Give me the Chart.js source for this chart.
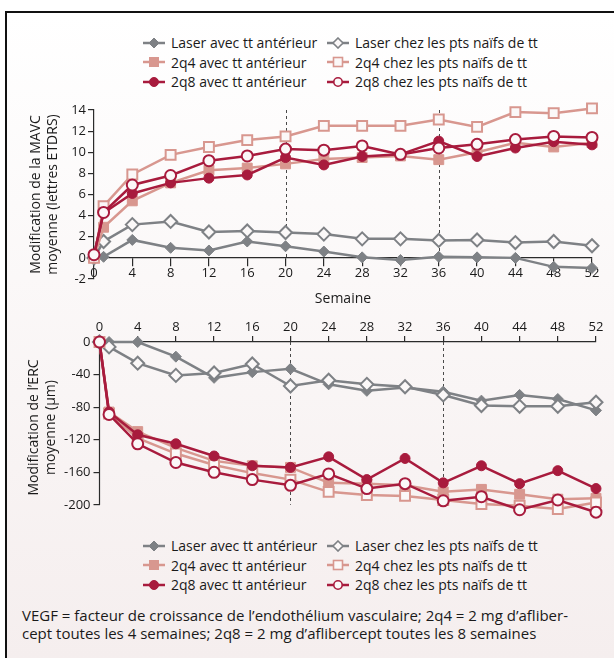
<!DOCTYPE html>
<html lang="fr">
<head>
<meta charset="utf-8">
<script src="https://cdn.jsdelivr.net/npm/chart.js@4.4.0/dist/chart.umd.min.js"></script>
<style>
  html, body { margin: 0; padding: 0; }
  body { width: 614px; height: 658px; position: relative; overflow: hidden; background: #fff;
         font-family: "Open Sans", sans-serif; color: #1a1a1a; }
  #frame { position: absolute; left: 5px; top: 11px; right: 0; bottom: 0;
           border-left: 2px solid #111; border-top: 2px solid #111;
           background: linear-gradient(#ffffff 0%, #f5eeee 100%); }
  canvas { position: absolute; left: 0; }
  #mavc { top: 95px; }
  #erc { top: 305px; }
  .legend { position: absolute; left: 143px; display: grid; grid-template-columns: 184px auto;
            grid-auto-rows: 19.5px; font-size: 14px; }
  .legend div { display: flex; align-items: center; white-space: nowrap; }
  .legend svg { margin-right: 6px; }
  #legendTop { top: 33px; }
  #legendBottom { top: 536px; }
  #note { position: absolute; left: 22px; top: 607px; font-size: 15px; line-height: 17.5px; white-space: nowrap; }
</style>
</head>
<body>
<div id="frame"></div>
<div class="legend" id="legendTop"></div>
<canvas id="mavc" width="614" height="232"></canvas>
<canvas id="erc" width="614" height="220"></canvas>
<div class="legend" id="legendBottom"></div>
<div id="note">VEGF = facteur de croissance de l’endothélium vasculaire; 2q4 = 2 mg d’afliber-<br>cept toutes les 4 semaines; 2q8 = 2 mg d’aflibercept toutes les 8 semaines</div>

<script>
// Données
const weeks = [0, 1, 4, 8, 12, 16, 20, 24, 28, 32, 36, 40, 44, 48, 52];
const refWeeks = [20, 36];
const seriesNames = [
    'Laser avec tt antérieur', 'Laser chez les pts naïfs de tt',
    '2q4 avec tt antérieur', '2q4 chez les pts naïfs de tt',
    '2q8 avec tt antérieur', '2q8 chez les pts naïfs de tt'
];

// MAVC (lettres ETDRS)
const mavcLaserPrior = [0, 0.1, 1.7, 0.95, 0.7, 1.55, 1.1, 0.6, 0.05, -0.2, 0.1, 0.05, 0, -0.85, -0.95];
const mavcLaserNaive = [0, 1.55, 3.15, 3.45, 2.45, 2.55, 2.4, 2.25, 1.8, 1.8, 1.65, 1.7, 1.45, 1.55, 1.15];
const mavcQ4Prior = [0, 2.9, 5.4, 7.1, 8.3, 8.5, 8.9, 9.35, 9.5, 9.65, 9.3, 10.0, 10.9, 10.5, 10.9];
const mavcQ4Naive = [0, 4.9, 7.9, 9.75, 10.5, 11.15, 11.5, 12.5, 12.5, 12.5, 13.1, 12.4, 13.8, 13.7, 14.15];
const mavcQ8Prior = [0.3, 4.25, 6.1, 7.1, 7.55, 7.85, 9.5, 8.8, 9.6, 9.8, 11.05, 9.6, 10.4, 11.0, 10.7];
const mavcQ8Naive = [0.3, 4.3, 6.9, 7.8, 9.2, 9.65, 10.3, 10.2, 10.6, 9.8, 10.4, 10.75, 11.2, 11.5, 11.4];
const mavcTicks = { min: -2, max: 14, step: 2 };

// ERC (µm)
const ercLaserPrior = [0, 0, 0, -18, -44, -37, -33, -52, -60, -56, -61, -72, -65, -70, -84];
const ercLaserNaive = [0, -6, -26, -41, -38, -27, -54, -47, -52, -55, -65, -78, -79, -79, -74];
const ercQ4Prior = [0, -86, -110, -130, -146, -152, -154, -173, -174, -176, -184, -181, -187, -193, -192];
const ercQ4Naive = [0, -88, -118, -137, -151, -161, -169, -184, -188, -189, -194, -199, -201, -205, -197];
const ercQ8Prior = [0, -86, -114, -125, -140, -152, -154, -141, -169, -143, -173, -152, -174, -158, -180];
const ercQ8Naive = [0, -89, -125, -148, -160, -169, -176, -162, -180, -174, -195, -190, -206, -194, -209];
const ercTicks = [0, -40, -80, -120, -160, -200];

// Styles
const GRAY = '#7e8185', PINK = '#d8978f', RED = '#a81b3d', PAPER = '#fbf8f8', AXIS = '#2b2b2b';
const styles = [
    { color: GRAY, shape: 'rectRot', radius: 5.5, open: false },
    { color: GRAY, shape: 'rectRot', radius: 6.5, open: true },
    { color: PINK, shape: 'rect', radius: 7, open: false },
    { color: PINK, shape: 'rect', radius: 7, open: true },
    { color: RED, shape: 'circle', radius: 5, open: false },
    { color: RED, shape: 'circle', radius: 5.5, open: true }
];

Chart.defaults.font.family = '"Open Sans", sans-serif';
Chart.defaults.font.size = 13;
Chart.defaults.color = '#1a1a1a';

// Lignes pointillées + axe y partiel
const refLinesPlugin = {
    id: 'refLines',
    beforeDatasetsDraw(chart, args, opts) {
        const { ctx, scales: { x, y } } = chart;
        ctx.save();
        ctx.strokeStyle = '#4a4a4a';
        ctx.lineWidth = 1;
        ctx.setLineDash([3, 3]);
        opts.weeks.forEach(w => {
            const px = Math.round(x.getPixelForValue(w)) + 0.5;
            ctx.beginPath();
            ctx.moveTo(px, y.getPixelForValue(opts.from));
            ctx.lineTo(px, y.getPixelForValue(opts.to));
            ctx.stroke();
        });
        if (opts.axisLine) {
            ctx.setLineDash([]);
            ctx.strokeStyle = AXIS;
            ctx.lineWidth = 1.2;
            ctx.beginPath();
            ctx.moveTo(x.left, y.getPixelForValue(opts.axisLine[0]));
            ctx.lineTo(x.left, y.getPixelForValue(opts.axisLine[1]));
            ctx.stroke();
        }
        ctx.restore();
    }
};

function buildDatasets(seriesValues) {
    // l'ordre est inversé pour que les marqueurs pleins passent devant
    return seriesValues.map((values, i) => {
        const st = styles[i];
        return {
            label: seriesNames[i],
            data: weeks.map((w, k) => ({ x: w, y: values[k] })),
            borderColor: st.color,
            borderWidth: 2.5,
            pointStyle: st.shape,
            pointRadius: st.radius,
            pointBorderColor: st.color,
            pointBackgroundColor: st.open ? PAPER : st.color,
            pointBorderWidth: st.open ? 2 : 1,
            tension: 0,
            clip: false
        };
    }).reverse();
}

function axisGrid(len) {
    return { display: true, drawOnChartArea: false, drawTicks: true, tickLength: len, color: AXIS, lineWidth: 1.2 };
}

// Graphique MAVC
new Chart(document.getElementById('mavc'), {
    type: 'line',
    data: { datasets: buildDatasets([mavcLaserPrior, mavcLaserNaive, mavcQ4Prior, mavcQ4Naive, mavcQ8Prior, mavcQ8Naive]) },
    options: {
        responsive: false,
        animation: false,
        layout: { padding: { left: 0, right: 22, top: 15, bottom: 48 } },
        plugins: {
            legend: { display: false },
            tooltip: { enabled: false },
            refLines: { weeks: refWeeks, from: 14, to: 0 }
        },
        scales: {
            x: {
                type: 'linear', min: 0, max: 52, position: { y: 0 },
                ticks: { stepSize: 4, padding: 0, font: { size: 13 } },
                grid: axisGrid(8),
                border: { color: AXIS, width: 1.2 },
                title: { display: true, text: 'Semaine', font: { size: 14 }, padding: { top: 0, bottom: 0 } },
                afterFit: s => { s.height = 50; }
            },
            y: {
                min: mavcTicks.min, max: mavcTicks.max,
                ticks: { stepSize: mavcTicks.step, padding: 2, font: { size: 13 } },
                grid: axisGrid(6),
                border: { color: AXIS, width: 1.2 },
                title: { display: true, text: ['Modification de la MAVC', 'moyenne (lettres ETDRS)'],
                         font: { size: 14, lineHeight: '17px' }, padding: { top: 27.5, bottom: 0 } },
                afterFit: s => { s.width = 94; }
            }
        }
    },
    plugins: [refLinesPlugin]
});

// Graphique ERC
new Chart(document.getElementById('erc'), {
    type: 'line',
    data: { datasets: buildDatasets([ercLaserPrior, ercLaserNaive, ercQ4Prior, ercQ4Naive, ercQ8Prior, ercQ8Naive]) },
    options: {
        responsive: false,
        animation: false,
        layout: { padding: { left: 0, right: 18, top: 0, bottom: 12 } },
        plugins: {
            legend: { display: false },
            tooltip: { enabled: false },
            refLines: { weeks: refWeeks, from: 0, to: -200, axisLine: [0, -200] }
        },
        scales: {
            x: {
                type: 'linear', min: 0, max: 52, position: 'top',
                ticks: { stepSize: 4, padding: 1, font: { size: 13 } },
                grid: axisGrid(6),
                border: { color: AXIS, width: 1.2 },
                afterFit: s => { s.height = 37; }
            },
            y: {
                min: -210, max: 0,
                afterBuildTicks: s => { s.ticks = ercTicks.map(v => ({ value: v })); },
                ticks: { padding: 3, font: { size: 13 } },
                grid: axisGrid(6),
                border: { display: false },
                title: { display: true, text: ['Modification de l’ERC', 'moyenne (µm)'],
                         font: { size: 14, lineHeight: '17px' }, padding: { top: 25.5, bottom: 0 } },
                afterFit: s => { s.width = 99.5; }
            }
        }
    },
    plugins: [refLinesPlugin]
});

// Légendes HTML
function markerSvg(st) {
    const c = st.color, fill = st.open ? PAPER : c, sw = st.open ? 1.6 : 1;
    let m;
    if (st.shape === 'rectRot') {
        m = `<polygon points="11,1 16,6 11,11 6,6" fill="${fill}" stroke="${c}" stroke-width="${sw}"/>`;
    } else if (st.shape === 'rect') {
        m = `<rect x="6.5" y="1.5" width="9" height="9" fill="${fill}" stroke="${c}" stroke-width="${sw}"/>`;
    } else {
        m = `<circle cx="11" cy="6" r="${st.open ? 4.2 : 4.5}" fill="${fill}" stroke="${c}" stroke-width="${sw}"/>`;
    }
    return `<svg width="22" height="12"><line x1="0" y1="6" x2="22" y2="6" stroke="${c}" stroke-width="2.5"/>${m}</svg>`;
}

function fillLegend(id) {
    const el = document.getElementById(id);
    el.innerHTML = seriesNames.map((name, i) => `<div>${markerSvg(styles[i])}<span>${name}</span></div>`).join('');
}
fillLegend('legendTop');
fillLegend('legendBottom');
</script>
</body>
</html>
